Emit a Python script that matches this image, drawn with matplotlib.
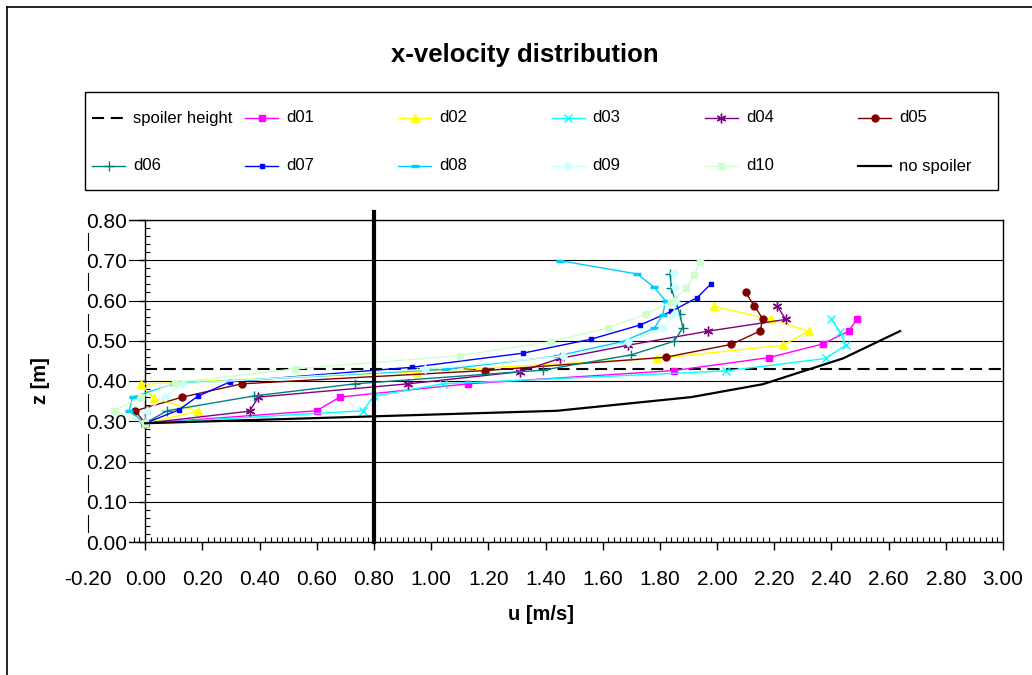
import matplotlib
matplotlib.use('Agg')
import matplotlib.pyplot as plt
from matplotlib.patches import Rectangle
from matplotlib.ticker import MultipleLocator, FormatStrFormatter

plt.rcParams['font.family'] = ['Liberation Sans', 'DejaVu Sans']

# x-velocity u [m/s] against height z [m]
d01_u = [0.00, 0.60, 0.68, 1.13, 1.85, 2.18, 2.37, 2.46, 2.49]
d01_z = [0.295, 0.326, 0.360, 0.393, 0.426, 0.458, 0.492, 0.524, 0.554]
d02_u = [0.00, 0.186, 0.03, -0.016, 0.95, 1.79, 2.23, 2.32, 2.19, 1.99]
d02_z = [0.295, 0.325, 0.357, 0.392, 0.423, 0.456, 0.489, 0.524, 0.553, 0.586]
d03_u = [0.00, 0.76, 0.80, 1.04, 2.03, 2.38, 2.45, 2.43, 2.40]
d03_z = [0.295, 0.326, 0.362, 0.393, 0.425, 0.456, 0.489, 0.522, 0.553]
d04_u = [0.00, 0.365, 0.396, 0.92, 1.31, 1.45, 1.69, 1.97, 2.24, 2.21]
d04_z = [0.295, 0.325, 0.360, 0.393, 0.423, 0.456, 0.489, 0.524, 0.553, 0.587]
d05_u = [0.00, -0.035, 0.13, 0.338, 1.19, 1.82, 2.05, 2.15, 2.16, 2.13, 2.10]
d05_z = [0.295, 0.326, 0.360, 0.393, 0.426, 0.459, 0.491, 0.524, 0.554, 0.587, 0.620]
d06_u = [0.00, 0.076, 0.382, 0.734, 1.39, 1.70, 1.85, 1.88, 1.87, 1.855, 1.84, 1.836]
d06_z = [0.295, 0.326, 0.363, 0.393, 0.427, 0.465, 0.499, 0.532, 0.566, 0.598, 0.630, 0.667]
d07_u = [0.00, 0.117, 0.184, 0.297, 0.932, 1.32, 1.56, 1.73, 1.84, 1.93, 1.98]
d07_z = [0.295, 0.328, 0.362, 0.398, 0.434, 0.469, 0.504, 0.539, 0.573, 0.607, 0.642]
d08_u = [0.00, -0.056, -0.044, 0.10, 1.05, 1.44, 1.67, 1.78, 1.81, 1.82, 1.78, 1.72, 1.45]
d08_z = [0.295, 0.326, 0.360, 0.393, 0.429, 0.462, 0.498, 0.531, 0.564, 0.599, 0.633, 0.666, 0.699]
d09_u = [0.00, 0.006, 0.07, 0.128, 0.98, 1.46, 1.69, 1.81, 1.85, 1.853, 1.853, 1.85]
d09_z = [0.295, 0.326, 0.360, 0.393, 0.429, 0.462, 0.496, 0.532, 0.566, 0.599, 0.634, 0.669]
d10_u = [0.00, -0.11, -0.014, 0.103, 0.524, 1.10, 1.42, 1.62, 1.75, 1.84, 1.89, 1.92, 1.94]
d10_z = [0.295, 0.326, 0.360, 0.396, 0.430, 0.463, 0.498, 0.532, 0.566, 0.597, 0.630, 0.663, 0.696]
nospoiler_u = [0.00, 1.44, 1.91, 2.16, 2.44, 2.64]
nospoiler_z = [0.295, 0.326, 0.360, 0.392, 0.456, 0.524]
spoiler_u = [0.0, 3.0]
spoiler_z = [0.43, 0.43]
ref_u = [0.8, 0.8]
ref_z = [0.0, 0.82]

labels = ['spoiler height', 'd01', 'd02', 'd03', 'd04', 'd05',
          'd06', 'd07', 'd08', 'd09', 'd10', 'no spoiler']

styles = {
    'spoiler height': dict(color='black', lw=1.5, ls=(0, (5.8, 3.2))),
    'd01': dict(color='#FF00FF', lw=1, marker='s', ms=5),
    'd02': dict(color='#FFFF00', lw=1, marker='^', ms=6),
    'd03': dict(color='#00FFFF', lw=1, marker='x', ms=6, mew=1),
    'd04': dict(color='#800080', lw=1, marker=(6, 2, 0), ms=7, mew=1),
    'd05': dict(color='#800000', lw=1, marker='o', ms=5),
    'd06': dict(color='#008080', lw=1, marker='+', ms=7, mew=1),
    'd07': dict(color='#0000FF', lw=1, marker='s', ms=2.5),
    'd08': dict(color='#00CCFF', lw=1, marker='_', ms=6, mew=2.5),
    'd09': dict(color='#CCFFFF', lw=1, marker='D', ms=4.5),
    'd10': dict(color='#CCFFCC', lw=1, marker='s', ms=5),
    'no spoiler': dict(color='black', lw=1.6),
}

series = [
    (spoiler_u, spoiler_z, 'spoiler height'),
    (d01_u, d01_z, 'd01'), (d02_u, d02_z, 'd02'), (d03_u, d03_z, 'd03'),
    (d04_u, d04_z, 'd04'), (d05_u, d05_z, 'd05'), (d06_u, d06_z, 'd06'),
    (d07_u, d07_z, 'd07'), (d08_u, d08_z, 'd08'), (d09_u, d09_z, 'd09'),
    (d10_u, d10_z, 'd10'), (nospoiler_u, nospoiler_z, 'no spoiler'),
]

fig = plt.figure(figsize=(10.32, 6.75), dpi=100)

# background axes in pixel units for title, legend and frame
bg = fig.add_axes([0, 0, 1, 1])
bg.set_xlim(0, 1032)
bg.set_ylim(675, 0)
bg.axis('off')
bg.plot([7, 7], [7, 675], color='black', lw=1.2)
bg.plot([7, 1032], [7, 7], color='black', lw=1.2)

bg.text(524.5, 55, 'x-velocity distribution', ha='center', va='center',
        fontsize=18.5, fontweight='bold')
bg.text(541, 615, 'u [m/s]', ha='center', va='center', fontsize=14.5, fontweight='bold')
bg.text(40, 381, 'z [m]', ha='center', va='center', rotation=90,
        fontsize=14.5, fontweight='bold')

# legend
bg.add_patch(Rectangle((85, 92), 913, 98, fill=False, ec='black', lw=1))
for i, lab in enumerate(labels):
    r, c = divmod(i, 6)
    x0 = 92 + 153.2 * c
    y0 = 118 + 48 * r
    st = dict(styles[lab])
    mk = {k: st.pop(k) for k in ['marker', 'ms', 'mew'] if k in st}
    bg.plot([x0, x0 + 33], [y0, y0], **st)
    if mk:
        bg.plot([x0 + 16.5], [y0], color=st['color'], ls='none', **mk)
    bg.text(x0 + 41, y0, lab, ha='left', va='center', fontsize=12)

# main chart
ax = fig.add_axes([88 / 1032, 133 / 675, 915 / 1032, 322 / 675])
for u, z, lab in series:
    ax.plot(u, z, zorder=3, **styles[lab])
ax.plot(ref_u, ref_z, color='black', lw=3, zorder=4, clip_on=False)

ax.set_xlim(-0.2, 3.0)
ax.set_ylim(0, 0.8)
ax.xaxis.set_major_locator(MultipleLocator(0.2))
ax.xaxis.set_minor_locator(MultipleLocator(0.02))
ax.yaxis.set_major_locator(MultipleLocator(0.1))
ax.yaxis.set_minor_locator(MultipleLocator(0.02))
ax.xaxis.set_major_formatter(FormatStrFormatter('%.2f'))
ax.yaxis.set_major_formatter(FormatStrFormatter('%.2f'))

ax.spines['left'].set_position(('data', 0))
for s in ['top', 'right', 'bottom', 'left']:
    ax.spines[s].set_linewidth(1)
ax.set_axisbelow(False)
ax.grid(axis='y', which='major', color='black', lw=0.8)
ax.axvline(-0.2, color='black', lw=0.8, zorder=2.4, clip_on=False)

ax.tick_params(axis='x', which='major', direction='out', length=6, width=1,
               labelsize=15, pad=14)
ax.tick_params(axis='x', which='minor', direction='in', length=3.5, width=0.8)
ax.tick_params(axis='y', which='major', direction='out', length=4, width=1,
               labelsize=15, pad=9)
ax.tick_params(axis='y', which='minor', direction='in', length=3.5, width=0.8)

fig.canvas.draw()
for t in ax.yaxis.get_major_ticks():
    t.label1.set_bbox(dict(boxstyle='square,pad=0.08', fc='white', ec='none'))

fig.savefig('out.png', dpi=100)
